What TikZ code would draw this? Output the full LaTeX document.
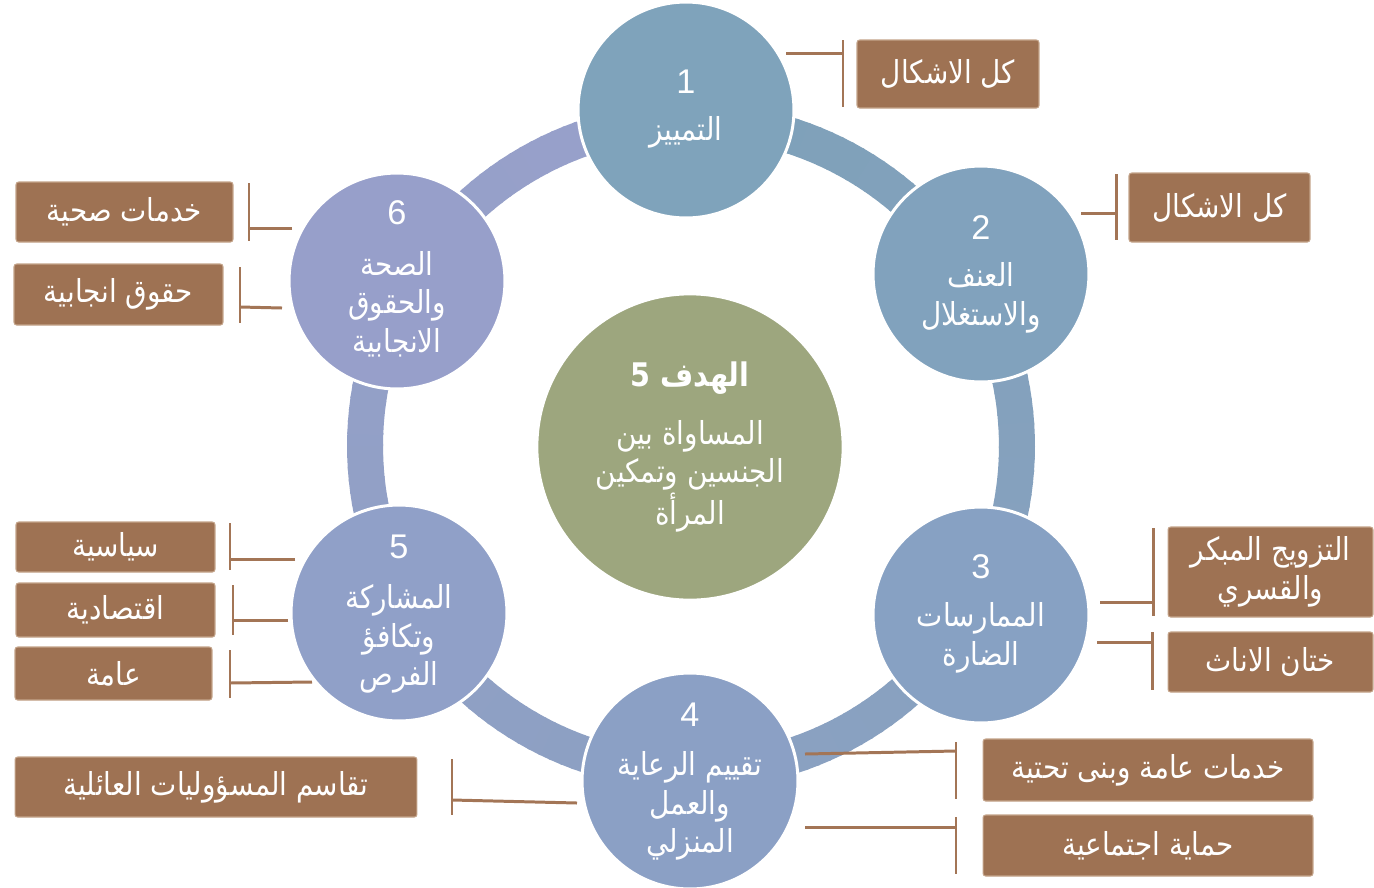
\documentclass[tikz,border=0pt]{standalone}
\usepackage{fontspec}
\setmainfont{Liberation Sans}
\newfontfamily\arabicfont[Script=Arabic,FakeStretch=0.88]{DejaVu Sans}
\TeXXeTstate=1
\newcommand{\ar}[1]{{\arabicfont\beginR #1\endR}}
\definecolor{ringA}{RGB}{126,161,185}
\definecolor{ringB}{RGB}{153,160,203}
\definecolor{cA}{RGB}{127,163,187}
\definecolor{cB}{RGB}{129,162,189}
\definecolor{cC}{RGB}{135,161,195}
\definecolor{cD}{RGB}{139,160,197}
\definecolor{cE}{RGB}{144,160,200}
\definecolor{cF}{RGB}{151,159,202}
\definecolor{cmid}{RGB}{157,166,126}
\definecolor{boxfill}{RGB}{158,114,83}
\definecolor{boxline}{RGB}{196,164,138}
\definecolor{connc}{RGB}{163,117,86}
\begin{document}
\begin{tikzpicture}[x=0.02cm,y=-0.02cm,
  smallc/.style={circle,draw=white,line width=1.7pt,minimum size=4.32cm,inner sep=0pt},
  numtxt/.style={text=white,font=\fontsize{19.5}{22}\selectfont,inner sep=0pt},
  lbltxt/.style={text=white,font=\fontsize{18}{22}\selectfont,align=center,inner sep=0pt},
  boxn/.style={rectangle,rounded corners=1.5pt,draw=boxline,line width=0.6pt,fill=boxfill,text=white,font=\fontsize{18}{22}\selectfont,align=center,inner sep=0pt},
  conn/.style={draw=connc,line width=1.7pt}]
\useasboundingbox (0,0) rectangle (1374,887);
\fill[white] (0,0) rectangle (1374,887);
% ring
\foreach \i in {0,...,179}{
  \pgfmathsetmacro\ra{-90+2*\i}
  \pgfmathsetmacro\rb{-90+2*\i+2.4}
  \pgfmathsetmacro\rt{100-0.5587*\i}
  \fill[ringA!\rt!ringB] ({691+308*cos(\ra)},{446+308*sin(\ra)}) -- ({691+344*cos(\ra)},{446+344*sin(\ra)}) -- ({691+344*cos(\rb)},{446+344*sin(\rb)}) -- ({691+308*cos(\rb)},{446+308*sin(\rb)}) -- cycle;
}
% center
\node[circle,draw=white,line width=1.5pt,fill=cmid,minimum size=6.12cm,inner sep=0pt] (mid) at (690,447) {};
\node[text=white,font=\arabicfont\bfseries\fontsize{18.5}{22}\selectfont,inner sep=0pt] (midt) at (690,378) {\beginR الهدف 5\endR};
\node[lbltxt] (midl) at (690,476) {\ar{المساواة بين}\\\ar{الجنسين وتمكين}\\\ar{المرأة}};
% small circles
\node[smallc,fill=cA] (c1) at (686,110) {};
\node[smallc,fill=cB] (c2) at (981,274) {};
\node[smallc,fill=cC] (c3) at (981,615) {};
\node[smallc,fill=cD] (c4) at (690,781) {};
\node[smallc,fill=cE] (c5) at (399,613) {};
\node[smallc,fill=cF] (c6) at (397,281) {};
\node[numtxt] (n1) at (686,82) {1};
\node[numtxt] (n2) at (981,228) {2};
\node[numtxt] (n3) at (981,567) {3};
\node[numtxt] (n4) at (690,715) {4};
\node[numtxt] (n5) at (399,547) {5};
\node[numtxt] (n6) at (397,213) {6};
\node[lbltxt] (l1) at (686,132) {\ar{التمييز}};
\node[lbltxt] (l2) at (981,298) {\ar{العنف}\\\ar{والاستغلال}};
\node[lbltxt] (l3) at (981,638) {\ar{الممارسات}\\\ar{الضارة}};
\node[lbltxt] (l4) at (690,806) {\ar{تقييم الرعاية}\\\ar{والعمل}\\\ar{المنزلي}};
\node[lbltxt] (l5) at (399,639) {\ar{المشاركة}\\\ar{وتكافؤ}\\\ar{الفرص}};
\node[lbltxt] (l6) at (397,304) {\ar{الصحة}\\\ar{والحقوق}\\\ar{الانجابية}};
% boxes
\node[boxn,minimum width=3.64cm,minimum height=1.36cm] (b1) at (948,74) {\ar{كل الاشكال}};
\node[boxn,minimum width=3.62cm,minimum height=1.38cm] (b2) at (1219.5,207.5) {\ar{كل الاشكال}};
\node[boxn,minimum width=4.10cm,minimum height=1.80cm] (b3) at (1270.5,572) {\ar{التزويج المبكر}\\\ar{والقسري}};
\node[boxn,minimum width=4.10cm,minimum height=1.20cm] (b4) at (1270.5,662) {\ar{ختان الاناث}};
\node[boxn,minimum width=6.60cm,minimum height=1.24cm] (b5) at (1148,770) {\ar{خدمات عامة وبنى تحتية}};
\node[boxn,minimum width=6.60cm,minimum height=1.22cm] (b6) at (1148,845.5) {\ar{حماية اجتماعية}};
\node[boxn,minimum width=8.04cm,minimum height=1.20cm] (b7) at (216,787) {\ar{تقاسم المسؤوليات العائلية}};
\node[boxn,minimum width=3.98cm,minimum height=1.00cm] (b8) at (115.5,547) {\ar{سياسية}};
\node[boxn,minimum width=3.98cm,minimum height=1.08cm] (b9) at (115.5,610) {\ar{اقتصادية}};
\node[boxn,minimum width=3.94cm,minimum height=1.06cm] (b10) at (113.5,673.5) {\ar{عامة}};
\node[boxn,minimum width=4.34cm,minimum height=1.20cm] (b11) at (124.5,212) {\ar{خدمات صحية}};
\node[boxn,minimum width=4.18cm,minimum height=1.22cm] (b12) at (118.5,294.5) {\ar{حقوق انجابية}};
% connector coordinates
\coordinate (h1a) at (786,53);   \coordinate (h1b) at (843,53);
\coordinate (v1a) at (843,40);   \coordinate (v1b) at (843,107);
\coordinate (h2a) at (1081,213); \coordinate (h2b) at (1116,213);
\coordinate (v2a) at (1116,174); \coordinate (v2b) at (1116,240);
\coordinate (h3a) at (1100,602); \coordinate (h3b) at (1153,602);
\coordinate (v3a) at (1153,528); \coordinate (v3b) at (1153,616);
\coordinate (h4a) at (1097,642); \coordinate (h4b) at (1152,642);
\coordinate (v4a) at (1152,632); \coordinate (v4b) at (1152,690);
\coordinate (h5a) at (805,754);  \coordinate (h5b) at (956,751);
\coordinate (v5a) at (956,742);  \coordinate (v5b) at (956,799);
\coordinate (h6a) at (805,827);  \coordinate (h6b) at (956,827);
\coordinate (v6a) at (956,817);  \coordinate (v6b) at (956,874);
\coordinate (h7a) at (577,803);  \coordinate (h7b) at (452,800);
\coordinate (v7a) at (452,759);  \coordinate (v7b) at (452,815);
\coordinate (h8a) at (295,559);  \coordinate (h8b) at (230,559);
\coordinate (v8a) at (230,523);  \coordinate (v8b) at (230,570);
\coordinate (h9a) at (288,620);  \coordinate (h9b) at (233,620);
\coordinate (v9a) at (233,585);  \coordinate (v9b) at (233,635);
\coordinate (h10a) at (312,682); \coordinate (h10b) at (230,683);
\coordinate (v10a) at (230,650); \coordinate (v10b) at (230,698);
\coordinate (h11a) at (292,228); \coordinate (h11b) at (249,228);
\coordinate (v11a) at (249,183); \coordinate (v11b) at (249,241);
\coordinate (h12a) at (282,308); \coordinate (h12b) at (240,307);
\coordinate (v12a) at (240,267); \coordinate (v12b) at (240,323);
\foreach \k in {1,...,12}{
  \draw[conn] (h\k a) -- (h\k b);
  \draw[conn] (v\k a) -- (v\k b);
}
\end{tikzpicture}
\end{document}
